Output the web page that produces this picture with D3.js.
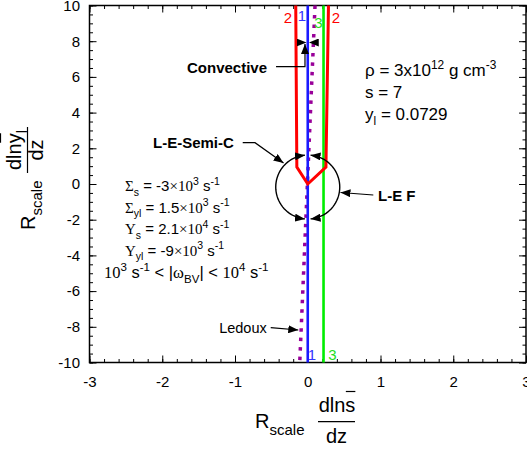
<!DOCTYPE html>
<html><head><meta charset="utf-8">
<script src="https://cdn.jsdelivr.net/npm/d3@7"></script>
<style>body{margin:0;background:#fff}svg{display:block}</style>
</head><body>
<script>
// ---------- data ----------
const xDomain = [-3, 3];
const yDomain = [-10, 10];
const xTickValues = [-3, -2, -1, 0, 1, 2, 3];
const yTickValues = [-10, -8, -6, -4, -2, 0, 2, 4, 6, 8, 10];
// curve 1 (blue)
const curve1X = [0, 0];
const curve1Y = [-10, 10];
// curve 2 (red)
const curve2X = [-0.165, -0.15, 0, 0.25, 0.285];
const curve2Y = [10, 0.95, 0, 0.95, 10];
// curve 3 (green)
const curve3X = [0.217, 0.217];
const curve3Y = [-10, 10];
// Ledoux (purple dotted)
const ledouxX = [0.10, -0.11];
const ledouxY = [10, -10];

const leftBlock = [
  [{t:"Σ",s:1},{t:"s",b:1},{t:" = -3"},{t:"×10",s:1},{t:"3",p:1},{t:" s"},{t:"-1",p:1}],
  [{t:"Σ",s:1},{t:"yl",b:1},{t:" = 1.5"},{t:"×10",s:1},{t:"3",p:1},{t:" s"},{t:"-1",p:1}],
  [{t:"Y",s:1},{t:"s",b:1},{t:" = 2.1"},{t:"×10",s:1},{t:"4",p:1},{t:" s"},{t:"-1",p:1}],
  [{t:"Y",s:1},{t:"yl",b:1},{t:" = -9"},{t:"×10",s:1},{t:"3",p:1},{t:" s"},{t:"-1",p:1}],
  [{t:"10",s:1},{t:"3",p:1},{t:" s"},{t:"-1",p:1},{t:" < |"},{t:"ω",s:1},{t:"BV",b:1},{t:"| < "},{t:"10",s:1},{t:"4",p:1},{t:" s"},{t:"-1",p:1}]
];
const rightBlock = [
  [{t:"ρ = 3x10"},{t:"12",p:1},{t:" g cm"},{t:"-3",p:1}],
  [{t:"s = 7"}],
  [{t:"y"},{t:"l",b:1},{t:" = 0.0729"}]
];

// ---------- layout ----------
const W = 527, H = 453;
const SANS = "'Liberation Sans', Arial, sans-serif";
const SERIF = "'Liberation Serif', 'Times New Roman', serif";
const x = d3.scaleLinear().domain(xDomain).range([89.5, 526]);
const y = d3.scaleLinear().domain(yDomain).range([362.5, 5.5]);

const svg = d3.select("body").append("svg").attr("width", W).attr("height", H)
  .attr("font-family", SANS);

const defs = svg.append("defs");
defs.append("marker").attr("id","ah").attr("markerUnits","userSpaceOnUse")
  .attr("viewBox","0 0 10 8").attr("refX",10).attr("refY",4)
  .attr("markerWidth",10).attr("markerHeight",8).attr("orient","auto-start-reverse")
  .append("path").attr("d","M0,0L10,4L0,8Z").attr("fill","#000");

// ---------- axes ----------
function strip(g){ g.select(".domain").remove(); }
const fmt = d => String(d);
svg.append("g").attr("transform",`translate(0,${y(-10)})`)
  .call(d3.axisBottom(x).tickValues(xTickValues).tickSize(-7).tickPadding(13.5).tickFormat(fmt))
  .call(strip).call(g=>g.selectAll("text").attr("font-size",15).attr("font-family",SANS).attr("fill","#000"));
svg.append("g").attr("transform",`translate(0,${y(-10)})`)
  .call(d3.axisBottom(x).tickValues(d3.range(-3,3.001,0.2)).tickSize(-3.5).tickFormat(""))
  .call(strip);
svg.append("g").attr("transform",`translate(0,${y(10)})`)
  .call(d3.axisTop(x).tickValues(xTickValues).tickSize(-7).tickFormat(""))
  .call(strip);
svg.append("g").attr("transform",`translate(0,${y(10)})`)
  .call(d3.axisTop(x).tickValues(d3.range(-3,3.001,0.2)).tickSize(-3.5).tickFormat(""))
  .call(strip);
svg.append("g").attr("transform",`translate(${x(-3)},0)`)
  .call(d3.axisLeft(y).tickValues(yTickValues).tickSize(-7).tickPadding(9.5).tickFormat(fmt))
  .call(strip).call(g=>g.selectAll("text").attr("font-size",15).attr("font-family",SANS).attr("fill","#000"));
svg.append("g").attr("transform",`translate(${x(-3)},0)`)
  .call(d3.axisLeft(y).tickValues(d3.range(-10,10.01,0.5)).tickSize(-3.5).tickFormat(""))
  .call(strip);
svg.append("g").attr("transform",`translate(${x(3)},0)`)
  .call(d3.axisRight(y).tickValues(yTickValues).tickSize(-7).tickFormat(""))
  .call(strip);
svg.append("g").attr("transform",`translate(${x(3)},0)`)
  .call(d3.axisRight(y).tickValues(d3.range(-10,10.01,0.5)).tickSize(-3.5).tickFormat(""))
  .call(strip);
svg.selectAll(".tick line").attr("stroke","#000").attr("stroke-width",1);

svg.append("rect").attr("x",x(-3)).attr("y",y(10)).attr("width",x(3)-x(-3)).attr("height",y(-10)-y(10))
  .attr("fill","none").attr("stroke","#000").attr("stroke-width",1.5);

// ---------- curves ----------
const line = d3.line().x(d=>x(d[0])).y(d=>y(d[1]));
const zip = (a,b) => a.map((v,i)=>[v,b[i]]);
svg.append("path").attr("d",line(zip(ledouxX,ledouxY))).attr("fill","none")
  .attr("stroke","#990099").attr("stroke-width",3.5).attr("stroke-dasharray","3.5,6");
svg.append("path").attr("d",line(zip(curve3X,curve3Y))).attr("fill","none")
  .attr("stroke","#00ee00").attr("stroke-width",2.6);
svg.append("path").attr("d",line(zip(curve1X,curve1Y))).attr("fill","none")
  .attr("stroke","#1a1aff").attr("stroke-width",2.6);
svg.append("path").attr("d",line(zip(curve2X,curve2Y))).attr("fill","none")
  .attr("stroke","#ff0000").attr("stroke-width",3).attr("stroke-linejoin","miter");

// curve labels
const curveLabels = [
  {t:"2", c:"#ff0000", x:-0.271, y:9.02},
  {t:"1", c:"#3333ff", x:-0.079, y:9.13},
  {t:"3", c:"#22dd22", x:0.148,  y:8.74},
  {t:"2", c:"#ff0000", x:0.388,  y:9.02},
  {t:"1", c:"#3333ff", x:0.058,  y:-9.86},
  {t:"3", c:"#22dd22", x:0.340,  y:-9.86}
];
svg.append("g").selectAll("text").data(curveLabels).join("text")
  .attr("x",d=>x(d.x)).attr("y",d=>y(d.y)).attr("text-anchor","middle")
  .attr("font-size",15).attr("fill",d=>d.c).text(d=>d.t);

// ---------- rich text helper ----------
function rich(parent, px, py, segs, size, anchor){
  const t = parent.append("text").attr("x",px).attr("y",py).attr("font-size",size)
    .attr("text-anchor",anchor||"start").attr("fill","#000");
  let shift = 0;
  segs.forEach(s=>{
    const target = s.b ? size*0.32 : s.p ? -size*0.42 : 0;
    const ts = t.append("tspan").attr("dy",target-shift).text(s.t);
    shift = target;
    if (s.b || s.p) ts.attr("font-size",size*0.7);
    if (s.s) ts.attr("font-family",SERIF);
  });
  return t;
}

// left block
const lbX = [-2.512,-2.512,-2.512,-2.512,-2.801];
const lbY = [-0.392,-1.597,-2.801,-4.006,-5.266];
const lbSize = [15,15,15,15,16.5];
leftBlock.forEach((segs,i)=>rich(svg, x(lbX[i]), y(lbY[i]), segs, lbSize[i]));
// right block
const rbY = [6.05, 4.818, 3.613];
rightBlock.forEach((segs,i)=>rich(svg, x(0.787), y(rbY[i]), segs, 17));

// ---------- annotations ----------
const ann = svg.append("g");
const pl = pts => d3.line()(pts.map(p=>[x(p[0]),y(p[1])]));
function arrow(pts){
  ann.append("path").attr("d",pl(pts)).attr("fill","none").attr("stroke","#000")
    .attr("stroke-width",1.2).attr("marker-end","url(#ah)");
}
function label(tx,ty,txt,opts){
  ann.append("text").attr("x",x(tx)).attr("y",y(ty)).attr("font-size",opts.size)
    .attr("font-weight",opts.bold?"bold":"normal").attr("text-anchor",opts.anchor||"start")
    .text(txt);
}
label(-1.660, 6.235, "Convective", {size:15, bold:true});
arrow([[-0.436,6.571],[-0.038,6.571],[-0.038,7.843]]);
// converging heads near top
[[-0.134,-0.017],[0.117,0.014]].forEach(([a,b])=>{
  ann.append("path").attr("d",pl([[a,7.927],[b,7.927]])).attr("stroke","none")
    .attr("marker-end","url(#ah)");
});
label(-2.127, 2.017, "L-E-Semi-C", {size:15, bold:true});
arrow([[-0.894,2.314],[-0.725,2.314],[-0.333,1.176]]);
label(0.966, -0.980, "L-E F", {size:15, bold:true});
arrow([[0.901,-0.616],[0.450,-0.476]]);
label(-0.564, -8.347, "Ledoux", {size:14.5, anchor:"end"});
arrow([[-0.509,-8.050],[-0.130,-8.179]]);

// circle of arrows
const cx = x(0), cy = y(-0.17), r = x(0.44)-x(0);
function arcPath(a0,a1){
  const p = d3.path();
  const n = 40;
  for (let i=0;i<=n;i++){
    const a = (a0 + (a1-a0)*i/n)*Math.PI/180;
    const px = cx + r*Math.cos(a), py = cy + r*Math.sin(a);
    if(i===0) p.moveTo(px,py); else p.lineTo(px,py);
  }
  return p.toString();
}
[[95,265],[275,445]].forEach(([a0,a1])=>{
  ann.append("path").attr("d",arcPath(a0,a1)).attr("fill","none").attr("stroke","#000")
    .attr("stroke-width",1.4).attr("marker-start","url(#ah)").attr("marker-end","url(#ah)");
});

// ---------- axis titles ----------
// x title
const xt = svg.append("g");
rich(xt, 255, 428, [{t:"R"},{t:"scale",b:1}], 20).select("tspan:nth-child(2)").attr("dy",7).attr("font-size",15);
const xnum = xt.append("text").attr("x",337).attr("y",412).attr("font-size",20).attr("text-anchor","middle").text("dlns");
xt.append("line").attr("x1",318).attr("x2",355).attr("y1",421.7).attr("y2",421.7).attr("stroke","#000").attr("stroke-width",1.2);
xt.append("text").attr("x",336.5).attr("y",443).attr("font-size",20).attr("text-anchor","middle").text("dz");
{
  const n = xnum.node();
  const st = n.getStartPositionOfChar(3), en = n.getEndPositionOfChar(3);
  xt.append("line").attr("x1",st.x+0.5).attr("x2",en.x).attr("y1",412-20.5).attr("y2",412-20.5)
    .attr("stroke","#000").attr("stroke-width",1.2);
}
// y title (rotated)
const yt = svg.append("g").attr("transform","rotate(-90)");
const ry = rich(yt, -230, 35, [{t:"R"},{t:"scale",b:1}], 20);
ry.select("tspan:nth-child(2)").attr("dy",7).attr("font-size",15);
const ynum = yt.append("text").attr("x",-150).attr("y",21).attr("font-size",20).attr("text-anchor","middle");
ynum.append("tspan").text("dlny");
ynum.append("tspan").attr("dy",6).attr("font-size",15).text("l");
svg.append("line").attr("x1",27.5).attr("x2",27.5).attr("y1",127).attr("y2",173).attr("stroke","#000").attr("stroke-width",1.2);
yt.append("text").attr("x",-150).attr("y",43).attr("font-size",20).attr("text-anchor","middle").text("dz");
{
  const n = ynum.node();
  const st = n.getStartPositionOfChar(3), en = n.getEndPositionOfChar(3);
  yt.append("line").attr("x1",st.x+0.5).attr("x2",en.x).attr("y1",21-20.5).attr("y2",21-20.5)
    .attr("stroke","#000").attr("stroke-width",1.2);
}
</script>
</body></html>
